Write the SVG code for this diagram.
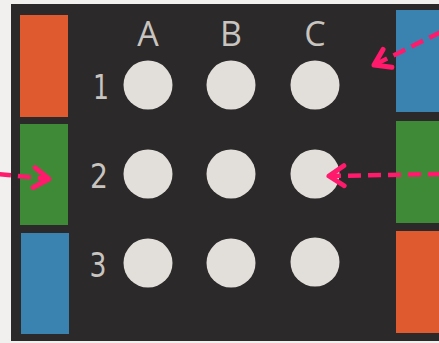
<svg xmlns="http://www.w3.org/2000/svg" width="439" height="343" viewBox="0 0 439 343">
  <style>
    .board { fill: #2b2929; }
    .dot { fill: #e2deda; }
    .col { font-family: "Open Sans", "DejaVu Sans", sans-serif; font-weight: 400; font-size: 34px; fill: #c8c4c0; text-anchor: middle; }
    .row { font-family: "DejaVu Sans", sans-serif; font-weight: 400; font-size: 33px; fill: #c8c4c0; text-anchor: middle; }
    .orange { fill: #e05a30; }
    .green { fill: #3f8a36; }
    .blue { fill: #3a82b0; }
    .arrow { fill: none; stroke: #ff1a6c; stroke-width: 4.5; stroke-dasharray: 13 7; marker-end: url(#head); }
  </style>
  <defs>
    <marker id="head" markerUnits="userSpaceOnUse" markerWidth="30" markerHeight="30" viewBox="-20 -15 30 30" refX="0" refY="0" orient="auto">
      <path d="M-15,-10 L0,0 L-15,10" fill="none" stroke="#ff1a6c" stroke-width="5" stroke-linecap="round" stroke-linejoin="round"/>
    </marker>
  </defs>

  <!-- paper and board -->
  <rect x="0" y="0" width="439" height="343" fill="#f2f0ee"/>
  <rect class="board" x="11" y="4" width="440" height="337"/>

  <!-- side colour bars -->
  <g id="bars-left">
    <rect class="orange" x="20" y="15" width="48" height="102"/>
    <rect class="green" x="20" y="124" width="48" height="101"/>
    <rect class="blue" x="21" y="233" width="48" height="101"/>
  </g>
  <g id="bars-right">
    <rect class="blue" x="396" y="10" width="50" height="102"/>
    <rect class="green" x="396" y="121" width="50" height="102"/>
    <rect class="orange" x="396" y="231" width="50" height="102"/>
  </g>

  <!-- column and row labels -->
  <g id="labels">
    <text class="col" x="148" y="46">A</text>
    <text class="col" x="231" y="46">B</text>
    <text class="col" x="315" y="46">C</text>
    <text class="row" x="101" y="99" textLength="16" lengthAdjust="spacingAndGlyphs">1</text>
    <text class="row" x="99" y="188" textLength="18" lengthAdjust="spacingAndGlyphs">2</text>
    <text class="row" x="98" y="277" textLength="17" lengthAdjust="spacingAndGlyphs">3</text>
  </g>

  <!-- 3x3 wells -->
  <g id="A1"><circle class="dot" cx="148" cy="85" r="24.5"/></g>
  <g id="B1"><circle class="dot" cx="231" cy="85" r="24.5"/></g>
  <g id="C1"><circle class="dot" cx="315" cy="85" r="24.5"/></g>
  <g id="A2"><circle class="dot" cx="148" cy="174" r="24.5"/></g>
  <g id="B2"><circle class="dot" cx="231" cy="174" r="24.5"/></g>
  <g id="C2"><circle class="dot" cx="315" cy="174" r="24.5"/></g>
  <g id="A3"><circle class="dot" cx="148" cy="263" r="24.5"/></g>
  <g id="B3"><circle class="dot" cx="231" cy="263" r="24.5"/></g>
  <g id="C3"><circle class="dot" cx="315" cy="262" r="24.5"/></g>

  <!-- pointer arrows -->
  <g id="connectors">
    <line class="arrow" x1="-2" y1="174" x2="49" y2="179"/>
    <line class="arrow" x1="441" y1="32" x2="374" y2="65"/>
    <line class="arrow" x1="441" y1="174" x2="329" y2="176"/>
  </g>
</svg>
